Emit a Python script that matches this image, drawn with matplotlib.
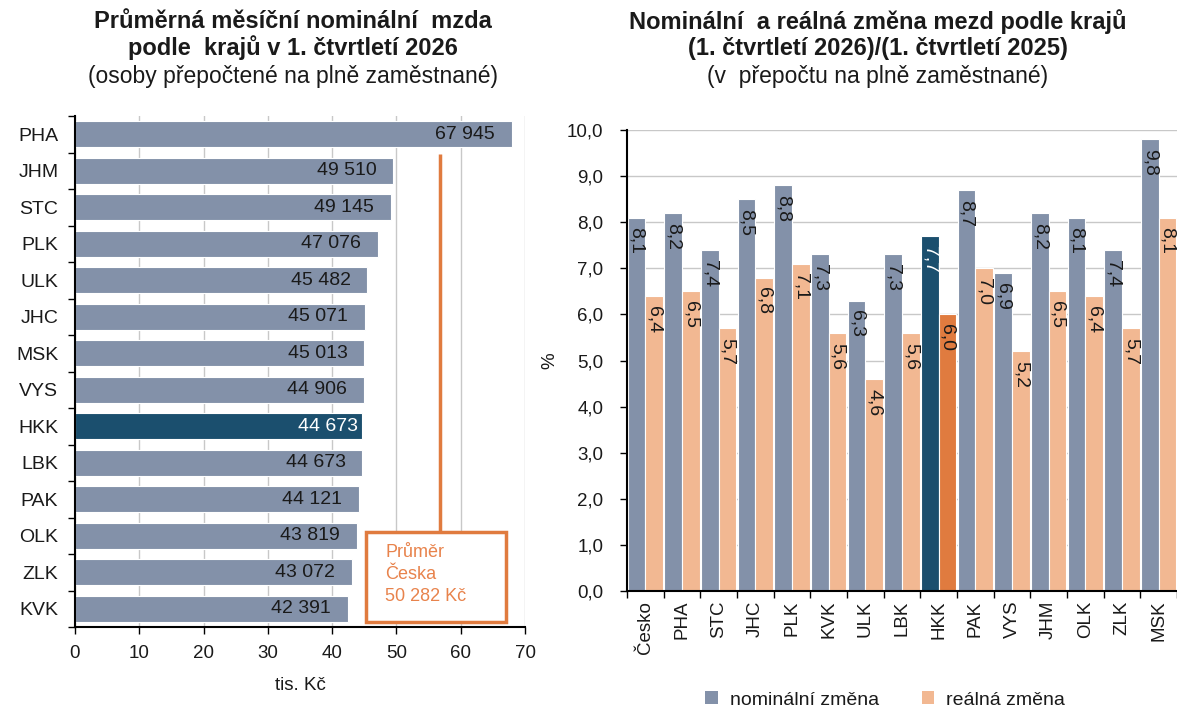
import matplotlib
matplotlib.use("Agg")
import matplotlib.pyplot as plt
from matplotlib.patches import Rectangle, Patch
import numpy as np

plt.rcParams['font.family'] = ['Liberation Sans', 'DejaVu Sans']

# ---- data: left chart ----
regions_left = ["PHA", "JHM", "STC", "PLK", "ULK", "JHC", "MSK", "VYS",
                "HKK", "LBK", "PAK", "OLK", "ZLK", "KVK"]
wages = [67945, 49510, 49145, 47076, 45482, 45071, 45013, 44906,
         44673, 44673, 44121, 43819, 43072, 42391]
highlight_left = "HKK"
avg_text = "Průměr\nČeska\n50 282 Kč"

# ---- data: right chart ----
regions_right = ["Česko", "PHA", "STC", "JHC", "PLK", "KVK", "ULK", "LBK",
                 "HKK", "PAK", "VYS", "JHM", "OLK", "ZLK", "MSK"]
nominal = [8.1, 8.2, 7.4, 8.5, 8.8, 7.3, 6.3, 7.3, 7.7, 8.7, 6.9, 8.2, 8.1, 7.4, 9.8]
real = [6.4, 6.5, 5.7, 6.8, 7.1, 5.6, 4.6, 5.6, 6.0, 7.0, 5.2, 6.5, 6.4, 5.7, 8.1]
highlight_right = "HKK"

GRAY = "#8391A9"
DARK = "#1B4F6E"
PEACH = "#F2B892"
ORANGE = "#E07B3F"
BOX_ORANGE = "#E8834C"
GRID = "#C8C8C8"
TXT = "#1a1a1a"

W, H = 1177, 711
fig = plt.figure(figsize=(W / 100, H / 100), dpi=100)
fig.patch.set_facecolor("white")

def px_axes(x0, y_top, x1, y_bot):
    return fig.add_axes([x0 / W, (H - y_bot) / H, (x1 - x0) / W, (y_bot - y_top) / H])

def fmt_thousands(v):
    return f"{v:,}".replace(",", " ")

TICK_FS = 13.5
VAL_FS = 14

# ================= LEFT CHART =================
ax1 = px_axes(75, 116, 525, 627)
ypos = np.arange(len(regions_left))
colors_l = [DARK if r == highlight_left else GRAY for r in regions_left]
vals_k = [w / 1000 for w in wages]
ax1.barh(ypos, vals_k, height=0.72, color=colors_l, edgecolor="white", linewidth=0.8, zorder=2)
ax1.set_xlim(0, 70)
ax1.set_ylim(len(regions_left) - 0.5, -0.5)
ax1.set_xticks(np.arange(0, 71, 10))
ax1.tick_params(axis="x", labelsize=TICK_FS, length=5, width=1, direction="out", pad=8,
                labelcolor=TXT)
ax1.set_yticks(ypos)
ax1.set_yticklabels(regions_left)
ax1.set_yticks(np.arange(-0.5, len(regions_left), 1), minor=True)
ax1.tick_params(axis="y", which="major", length=0, labelsize=14, pad=12, labelcolor=TXT)
ax1.tick_params(axis="y", which="minor", length=5, width=1, direction="out")
ax1.grid(axis="x", color=GRID, linewidth=1, zorder=0)
ax1.set_axisbelow(True)
for s in ["top", "right"]:
    ax1.spines[s].set_visible(False)
for s in ["left", "bottom"]:
    ax1.spines[s].set_linewidth(1.5)
ax1.set_xlabel("tis. Kč", fontsize=TICK_FS, labelpad=11, color=TXT)

for y, v, w, r in zip(ypos, vals_k, wages, regions_left):
    if r == highlight_left:
        ax1.annotate(fmt_thousands(w), (v, y), xytext=(-3, 0), textcoords="offset points",
                     ha="right", va="center", fontsize=VAL_FS, color="white", zorder=3)
    else:
        ax1.annotate(fmt_thousands(w), (v, y), xytext=(-12, 0), textcoords="offset points",
                     ha="right", va="center", fontsize=VAL_FS, color=TXT, zorder=3)

# callout line and box
ax1.plot([56.7, 56.7], [0.55, 10.9], color=ORANGE, linewidth=2.5, zorder=4, solid_capstyle="butt")
box = Rectangle((45.3, 10.9), 21.7, 2.45, facecolor="white", edgecolor=ORANGE,
                linewidth=2.5, zorder=5)
ax1.add_patch(box)
ax1.text(48.3, 11.22, avg_text, ha="left", va="top", fontsize=13, color=BOX_ORANGE,
         linespacing=1.4, zorder=6)

TITLE_FS = 17
SUB_FS = 16.5
fig.text(293 / W, 1 - 22 / H, "Průměrná měsíční nominální  mzda", ha="center", va="center",
         fontsize=TITLE_FS, fontweight="bold", color=TXT)
fig.text(293 / W, 1 - 48 / H, "podle  krajů v 1. čtvrtletí 2026", ha="center", va="center",
         fontsize=TITLE_FS, fontweight="bold", color=TXT)
fig.text(293 / W, 1 - 77 / H, "(osoby přepočtené na plně zaměstnané)", ha="center", va="center",
         fontsize=SUB_FS, color=TXT)

# ================= RIGHT CHART =================
ax2 = px_axes(627, 130, 1177, 591)
x = np.arange(len(regions_right))
bw = 0.48
off = 0.24
c_nom = [DARK if r == highlight_right else GRAY for r in regions_right]
c_real = [ORANGE if r == highlight_right else PEACH for r in regions_right]
ax2.bar(x - off, nominal, width=bw, color=c_nom, edgecolor="white", linewidth=0.8, zorder=2)
ax2.bar(x + off, real, width=bw, color=c_real, edgecolor="white", linewidth=0.8, zorder=2)
ax2.set_xlim(-0.5, len(regions_right) - 0.5)
ax2.set_ylim(0, 10)
ax2.set_yticks(np.arange(0, 10.01, 1))
ax2.set_yticklabels([f"{v:.1f}".replace(".", ",") for v in np.arange(0, 10.01, 1)])
ax2.tick_params(axis="y", labelsize=TICK_FS, length=5, width=1, direction="out", pad=12,
                labelcolor=TXT)
ax2.set_xticks(x)
ax2.set_xticklabels(regions_right, rotation=90, va="top")
ax2.set_xticks(np.arange(-0.5, len(regions_right), 1), minor=True)
ax2.tick_params(axis="x", which="major", length=0, labelsize=TICK_FS, pad=7, labelcolor=TXT)
ax2.tick_params(axis="x", which="minor", length=5, width=1, direction="out")
ax2.grid(axis="y", color=GRID, linewidth=1, zorder=0)
ax2.set_axisbelow(True)
for s in ["top", "right"]:
    ax2.spines[s].set_visible(False)
for s in ["left", "bottom"]:
    ax2.spines[s].set_linewidth(1.5)
ax2.set_ylabel("%", fontsize=TICK_FS, labelpad=6, color=TXT)

for xi, v, r in zip(x, nominal, regions_right):
    col = "white" if r == highlight_right else TXT
    ax2.annotate(f"{v:.1f}".replace(".", ","), (xi - off, v), xytext=(0, -7),
                 textcoords="offset points", ha="center", va="top", rotation=-90,
                 fontsize=VAL_FS, color=col, zorder=3)
for xi, v in zip(x, real):
    ax2.annotate(f"{v:.1f}".replace(".", ","), (xi + off, v), xytext=(0, -7),
                 textcoords="offset points", ha="center", va="top", rotation=-90,
                 fontsize=VAL_FS, color=TXT, zorder=3)

fig.text(878 / W, 1 - 22 / H, "Nominální  a reálná změna mezd podle krajů", ha="center",
         va="center", fontsize=TITLE_FS, fontweight="bold", color=TXT)
fig.text(878 / W, 1 - 48 / H, "(1. čtvrtletí 2026)/(1. čtvrtletí 2025)", ha="center",
         va="center", fontsize=TITLE_FS, fontweight="bold", color=TXT)
fig.text(878 / W, 1 - 77 / H, "(v  přepočtu na plně zaměstnané)", ha="center", va="center",
         fontsize=SUB_FS, color=TXT)

handles = [Patch(facecolor=GRAY, edgecolor="none", label="nominální změna"),
           Patch(facecolor=PEACH, edgecolor="none", label="reálná změna")]
fig.legend(handles=handles, loc="center", bbox_to_anchor=(885 / W, 1 - 700 / H), ncol=2,
           frameon=False, fontsize=14, handlelength=0.65, handleheight=0.65,
           columnspacing=2.2, handletextpad=0.6, labelcolor=TXT)

fig.savefig("out.png", dpi=100, facecolor="white")
